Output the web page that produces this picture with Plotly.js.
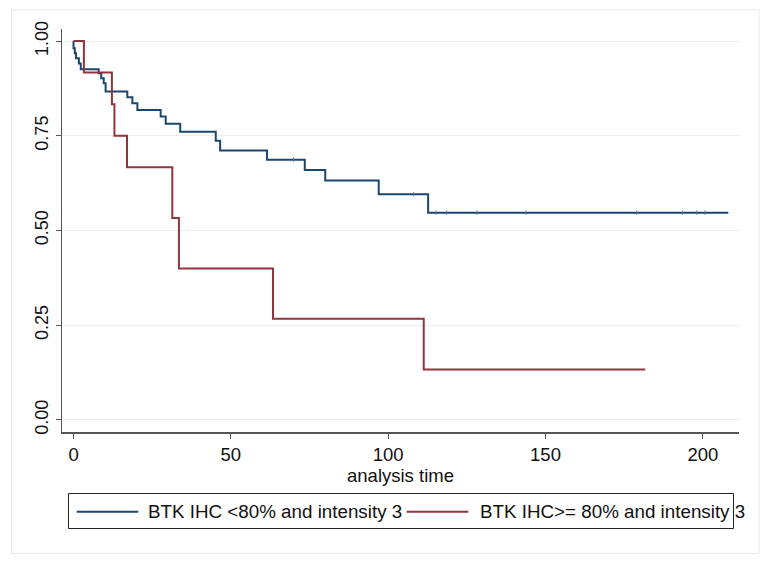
<!DOCTYPE html>
<html>
<head>
<meta charset="utf-8">
<script src="https://cdn.plot.ly/plotly-3.0.1.min.js"></script>
<style>
html,body{margin:0;padding:0;background:#fff;}
#chart{width:767px;height:576px;}
</style>
</head>
<body>
<div id="chart"></div>
<script>
// ---- data ----
var seriesNames = ["BTK IHC <80% and intensity 3", "BTK IHC>= 80% and intensity 3"];
var blueTime = [0, 0, 0.4, 0.8, 1.7, 2.3, 8, 8.8, 9.6, 10.2, 17.1, 18.7, 20.3, 27.7, 29.3, 33.9, 45.2, 46.6, 61.5, 73.5, 80, 97, 112.7, 208.1];
var blueSurv = [1.0, 0.981, 0.968, 0.955, 0.941, 0.926, 0.915, 0.902, 0.889, 0.867, 0.852, 0.836, 0.818, 0.801, 0.782, 0.761, 0.737, 0.711, 0.687, 0.66, 0.632, 0.596, 0.547, 0.547];
var redTime = [0, 3.3, 12.2, 13, 17, 31.4, 33.5, 63.4, 111.3, 181.7];
var redSurv = [1.0, 0.917, 0.833, 0.75, 0.667, 0.533, 0.40, 0.267, 0.133, 0.133];
var blueCensorTime = [69.9, 108, 115.2, 118.6, 128.2, 143.8, 179, 193.6, 198.1, 200.7];
var blueCensorSurv = [0.687, 0.596, 0.547, 0.547, 0.547, 0.547, 0.547, 0.547, 0.547, 0.547];
var yTicks = [0, 0.25, 0.5, 0.75, 1.0];
var xTicks = [0, 50, 100, 150, 200];
var xTitle = "analysis time";

var blue = "#1a476f", red = "#90353b";
var font = "Liberation Sans, Arial, Helvetica, sans-serif";

// plot area in pixels
var L = 62, R = 739, T = 29, B = 432;
function px(x){ return (x - L) / (R - L); }
function py(y){ return (B - y) / (B - T); }

var traces = [
  {x: blueTime, y: blueSurv, type: "scatter", mode: "lines", line: {shape: "hv", color: blue, width: 2}, name: seriesNames[0], showlegend: false, hoverinfo: "skip"},
  {x: redTime, y: redSurv, type: "scatter", mode: "lines", line: {shape: "hv", color: red, width: 2}, name: seriesNames[1], showlegend: false, hoverinfo: "skip"},
  {x: blueCensorTime, y: blueCensorSurv, type: "scatter", mode: "markers", marker: {symbol: "line-ns-open", size: 3, color: "#5a7892", line: {color: "#5a7892", width: 1}}, showlegend: false, hoverinfo: "skip"}
];

var shapes = [
  // outer frame
  {type: "rect", xref: "paper", yref: "paper", x0: px(11.5), x1: px(759), y0: py(10), y1: py(553.5), line: {color: "#e8e8e8", width: 1}, fillcolor: "rgba(0,0,0,0)", layer: "below"},
  // legend box
  {type: "rect", xref: "paper", yref: "paper", x0: px(68.5), x1: px(733.5), y0: py(493.5), y1: py(528.5), line: {color: "#222", width: 1}, fillcolor: "rgba(0,0,0,0)"},
  {type: "line", xref: "paper", yref: "paper", x0: px(76.7), x1: px(138.3), y0: py(511.7), y1: py(511.7), line: {color: blue, width: 2}},
  {type: "line", xref: "paper", yref: "paper", x0: px(406.7), x1: px(468.3), y0: py(511.7), y1: py(511.7), line: {color: red, width: 2}}
];

var annotations = [
  {xref: "paper", yref: "paper", x: px(146), y: py(511.7), text: seriesNames[0], showarrow: false, xanchor: "left", yanchor: "middle", font: {family: font, size: 18.8, color: "#111"}},
  {xref: "paper", yref: "paper", x: px(478), y: py(511.7), text: seriesNames[1], showarrow: false, xanchor: "left", yanchor: "middle", font: {family: font, size: 18.8, color: "#111"}}
];

var layout = {
  width: 767, height: 576,
  margin: {l: L, r: 767 - R, t: T, b: 576 - B, pad: 0},
  paper_bgcolor: "#fff", plot_bgcolor: "#fff",
  font: {family: font, size: 18.5, color: "#111"},
  showlegend: false,
  xaxis: {
    range: [-3.66, 211.5], tickvals: xTicks, ticktext: xTicks.map(String),
    showgrid: false, zeroline: false, showline: true, linecolor: "#555", linewidth: 1.5,
    ticks: "outside", ticklen: 5, tickcolor: "#555", tickwidth: 1,
    tickfont: {family: font, size: 18.5, color: "#111"},
    title: {text: xTitle, font: {family: font, size: 18.5, color: "#111"}, standoff: 3}
  },
  yaxis: {
    range: [-0.032, 1.032], tickvals: yTicks, tickformat: ".2f", tickangle: -90,
    showgrid: true, gridcolor: "#e9f1f2", gridwidth: 1, zeroline: false,
    showline: true, linecolor: "#555", linewidth: 1.5,
    ticks: "outside", ticklen: 5, tickcolor: "#555", tickwidth: 1,
    tickfont: {family: font, size: 18, color: "#111"}
  },
  shapes: shapes,
  annotations: annotations
};

Plotly.newPlot("chart", traces, layout, {staticPlot: true, displayModeBar: false});
</script>
</body>
</html>
